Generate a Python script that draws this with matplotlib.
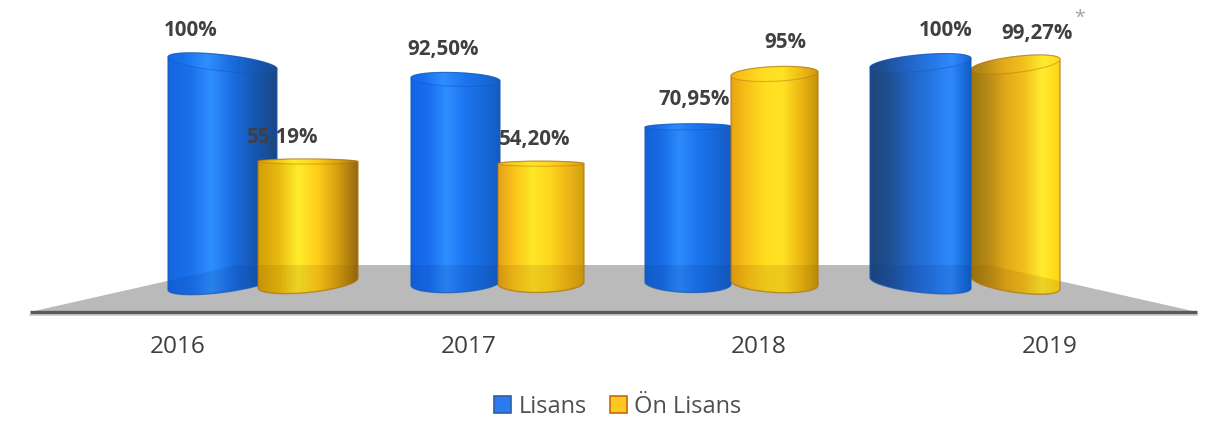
import numpy as np
import matplotlib
matplotlib.use('Agg')
import matplotlib.pyplot as plt
from matplotlib.colors import LinearSegmentedColormap
from matplotlib.patches import Patch, Polygon

years = ['2016', '2017', '2018', '2019']
lisans = [100, 92.5, 70.95, 100]
on_lisans = [55.19, 54.2, 95, 99.27]
lisans_labels = ['100%', '92,50%', '70,95%', '100%']
on_lisans_labels = ['55,19%', '54,20%', '95%', '99,27%']

# layout, in picture pixels
W, H = 1207, 421
BASE = 283
PX_PER_PCT = 2.2
EYE = 165
floor_px = [(30, 312), (238, 265), (989, 265), (1197, 312)]
lisans_edges = [(168, 277), (411, 500), (645, 731), (870, 971)]
on_lisans_edges = [(258, 358), (498, 584), (731, 818), (971, 1060)]
year_x = [178, 469, 759, 1050]
lisans_label_xy = [(191, 31), (443, 49), (694, 99), (946, 31)]
on_lisans_label_xy = [(283, 137), (535, 140), (785, 43), (1037, 33)]

# shading across each cylinder, left to right
blue_shades = [
    ['#1467e0', '#1a70ec', '#2f8fff', '#1a6ce0', '#1657b2', '#1c4682'],
    ['#1264e6', '#186eee', '#2e8eff', '#1d76f0', '#176adc', '#145cc4'],
    ['#1462d4', '#196ce6', '#2d8bfb', '#1d76f0', '#176adc', '#145cc4'],
    ['#1f4578', '#1f5094', '#2264c4', '#2476e2', '#2f8afd', '#105ec8'],
]
yellow_shades = [
    ['#d2a008', '#e8b810', '#ffec2c', '#ffce1a', '#d49e10', '#96680f'],
    ['#e4a218', '#fbc71c', '#ffe626', '#ffd71e', '#f0b816', '#d2a012'],
    ['#e9a412', '#fac41a', '#ffde20', '#ffe224', '#eeb814', '#c2940a'],
    ['#99750f', '#b98b16', '#e2aa1a', '#f2c01e', '#ffec2e', '#ffd416'],
]


def py(y_px):
    return (BASE - np.asarray(y_px, dtype=float)) / PX_PER_PCT


def floor_points():
    return [(x, py(y)) for x, y in floor_px]


def arc(left, right, y_px, t):
    # perspective ellipse: tilt and depth grow away from the eye level
    a = (right - left) / 2
    cx = (right + left) / 2
    dy = y_px - EYE
    tilt = 2.8e-6 * (cx - W / 2) * dy
    b = max(0.08 * abs(dy), 2.5)
    xs = cx + a * np.cos(t)
    ys = y_px + tilt * a * np.cos(t) + b * np.sin(t)
    return xs, py(ys)


def cylinder(ax, left, right, value, shades, edge, glass, z):
    y_top = BASE - value * PX_PER_PCT
    cmap = LinearSegmentedColormap.from_list('c', shades)
    grad = np.linspace(0, 1, 256).reshape(1, -1)

    bx, by = arc(left, right, BASE, np.linspace(np.pi, 0, 60))
    tx, ty = arc(left, right, y_top, np.linspace(2 * np.pi, np.pi, 60))
    body = Polygon(np.column_stack([np.r_[bx, tx], np.r_[by, ty]]),
                   closed=True, facecolor='none', edgecolor=edge,
                   linewidth=1.0, alpha=0.7, zorder=z + 0.2)
    ax.add_patch(body)
    im = ax.imshow(grad, cmap=cmap, extent=(left, right, py(H), py(0)),
                   aspect='auto', zorder=z, interpolation='bilinear')
    im.set_clip_path(body)

    # floor showing through the glass
    through = Polygon(floor_points(), closed=True, facecolor=glass,
                      edgecolor='none', alpha=0.16, zorder=z + 0.1)
    ax.add_patch(through)
    through.set_clip_path(body)

    # top cap
    cx, cy = arc(left, right, y_top, np.linspace(0, 2 * np.pi, 120))
    cap = Polygon(np.column_stack([cx, cy]), closed=True, facecolor='none',
                  edgecolor=edge, linewidth=0.8, alpha=0.45, zorder=z + 0.4)
    ax.add_patch(cap)
    im2 = ax.imshow(grad, cmap=cmap, extent=(left, right, py(H), py(0)),
                    aspect='auto', vmin=-0.1, vmax=1.05, zorder=z + 0.3,
                    interpolation='bilinear')
    im2.set_clip_path(cap)


fig = plt.figure(figsize=(W / 100, H / 100), dpi=100)
ax = fig.add_axes([0, 0, 1, 1])
plt.rcParams['font.family'] = ['Open Sans', 'DejaVu Sans']

# floor
ax.add_patch(Polygon(floor_points(), closed=True, facecolor='#bababa',
                     edgecolor='none', zorder=1))
ax.plot([30, 1197], py([312, 312]), color='#5a5a5a', linewidth=2.4, zorder=2,
        solid_capstyle='butt')
ax.plot([30, 1197], py([314.5, 314.5]), color='#c8c8c8', linewidth=1.2, zorder=1.5)

for i in range(len(years)):
    # the last blue one sits in front of its neighbour
    blue_z, yellow_z = (6, 3) if i == 3 else (3, 6)
    cylinder(ax, *lisans_edges[i], lisans[i], blue_shades[i], '#1558b8', '#0a3a90', blue_z)
    cylinder(ax, *on_lisans_edges[i], on_lisans[i], yellow_shades[i], '#b0730e', '#8a5a00', yellow_z)

    ax.text(lisans_label_xy[i][0], py(lisans_label_xy[i][1]), lisans_labels[i],
            ha='center', va='center', fontsize=14.8, fontweight='bold',
            color='#404040', zorder=10)
    ax.text(on_lisans_label_xy[i][0], py(on_lisans_label_xy[i][1]), on_lisans_labels[i],
            ha='center', va='center', fontsize=14.8, fontweight='bold',
            color='#404040', zorder=10)
    ax.text(year_x[i], py(347), years[i], ha='center', va='center',
            fontsize=17.6, color='#404040', zorder=10)

ax.text(1080, py(18), '*', ha='center', va='center', fontsize=14,
        color='#a0a0a0', zorder=10)

handles = [Patch(facecolor='#2a7bf0', edgecolor='#2f5f9f', linewidth=1.2, label='Lisans'),
           Patch(facecolor='#ffc820', edgecolor='#c8680c', linewidth=1.2, label='Ön Lisans')]
ax.legend(handles=handles, ncols=2, loc='center', bbox_to_anchor=(618 / W, 1 - 407 / H),
          frameon=False, fontsize=17, labelcolor='#505050', handlelength=0.72,
          handleheight=0.72, handletextpad=0.3, columnspacing=1.0, borderpad=0)

ax.set_xlim(0, W)
ax.set_ylim(py(H), py(0))
ax.axis('off')
fig.savefig('out.png', dpi=100)
